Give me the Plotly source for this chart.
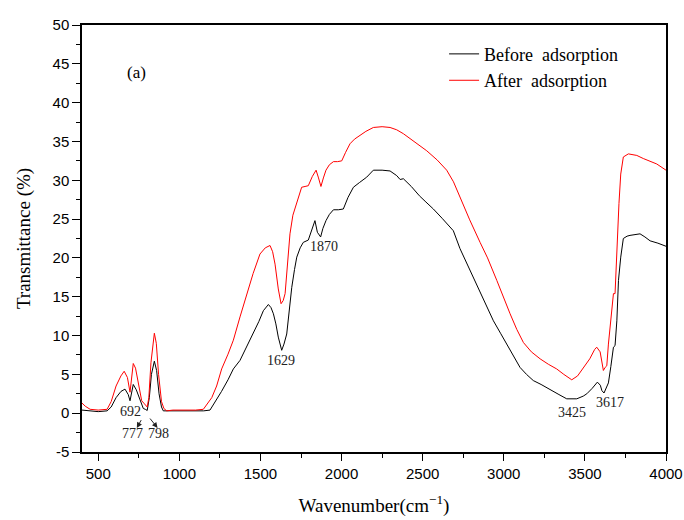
import plotly.graph_objects as go

# Wavenumber (cm-1) and transmittance (%)
before_x = [400, 450, 500, 555, 580, 610, 640, 665, 685, 696, 705, 716, 735, 755, 778, 790, 802, 815, 828, 846,
            860, 875, 890, 901, 950, 1000, 1050, 1100, 1150, 1189, 1220, 1260, 1300, 1333, 1374, 1415, 1456, 1490,
            1518, 1549, 1565, 1580, 1595, 1610, 1631, 1645, 1662, 1677, 1693, 1710, 1724, 1745, 1764, 1795, 1815,
            1836, 1851, 1871, 1885, 1904, 1925, 1950, 1980, 2011, 2040, 2073, 2110, 2155, 2196, 2250, 2299, 2340,
            2361, 2381, 2430, 2480, 2520, 2566, 2620, 2689, 2730, 2790, 2854, 2900, 2936, 2980, 3018, 3060, 3100,
            3140, 3182, 3230, 3285, 3340, 3388, 3450, 3490, 3512, 3545, 3577, 3595, 3605, 3618, 3632, 3645, 3660,
            3676, 3686, 3697, 3707, 3721, 3737, 3760, 3778, 3810, 3840, 3870, 3902, 3950, 4000]
before_y = [0.4, 0.3, 0.2, 0.3, 0.8, 2.0, 2.8, 3.1, 2.4, 1.6, 2.8, 3.7, 3.0, 1.8, 0.6, 0.5, 0.35, 2.0, 5.0, 6.7,
            5.5, 2.5, 0.8, 0.3, 0.3, 0.25, 0.3, 0.3, 0.3, 0.4, 1.4, 2.8, 4.3, 5.7, 6.8, 8.5, 10.2, 11.8,
            13.2, 14.0, 13.6, 12.8, 11.5, 9.8, 8.1, 8.9, 10.2, 13.0, 16.2, 18.5, 20.1, 21.3, 22.0, 22.3, 23.5,
            24.8, 23.3, 22.7, 23.8, 24.8, 25.6, 26.2, 26.2, 26.3, 27.8, 29.1, 29.7, 30.4, 31.3, 31.3, 31.2, 30.6,
            30.1, 30.2, 29.2, 28.0, 27.2, 26.3, 25.1, 23.5, 21.2, 18.5, 15.4, 13.4, 11.9, 10.3, 8.9, 7.3, 5.9,
            5.0, 4.2, 3.7, 3.1, 2.4, 1.85, 1.85, 2.2, 2.5, 3.2, 4.0, 3.6, 2.9, 2.6, 3.2, 3.9, 6.0,
            8.5, 8.7, 11.9, 17.1, 20.1, 22.5, 22.8, 22.9, 23.0, 23.1, 22.7, 22.2, 21.9, 21.5]

after_x = [400, 420, 450, 500, 555, 580, 610, 640, 660, 680, 696, 706, 716, 730, 748, 768, 785, 802, 812, 825,
           846, 858, 872, 890, 905, 922, 960, 1000, 1050, 1100, 1148, 1175, 1200, 1230, 1261, 1300, 1333, 1374,
           1415, 1455, 1497, 1530, 1559, 1575, 1590, 1610, 1627, 1640, 1652, 1668, 1682, 1700, 1724, 1740, 1754,
           1775, 1795, 1820, 1843, 1858, 1873, 1888, 1904, 1925, 1950, 1975, 2001, 2025, 2052, 2080, 2114, 2150,
           2196, 2250, 2299, 2340, 2381, 2450, 2525, 2590, 2648, 2690, 2730, 2790, 2854, 2900, 2957, 3000, 3039,
           3080, 3121, 3170, 3224, 3275, 3326, 3370, 3419, 3455, 3491, 3530, 3560, 3573, 3594, 3605, 3614, 3625,
           3635, 3645, 3660, 3676, 3686, 3697, 3710, 3721, 3737, 3768, 3800, 3820, 3860, 3900, 3943, 4000]
after_y = [1.3, 0.9, 0.5, 0.4, 0.5, 1.5, 3.5, 4.8, 5.4, 4.6, 2.7, 5.0, 6.4, 5.8, 3.8, 1.6, 1.2, 0.8, 2.0, 6.5,
           10.3, 9.0, 5.0, 1.5, 0.6, 0.3, 0.4, 0.4, 0.35, 0.4, 0.5, 1.2, 2.0, 3.5, 5.7, 7.6, 9.4, 12.4,
           15.4, 18.0, 20.5, 21.3, 21.6, 20.8, 19.2, 16.0, 14.1, 14.5, 15.4, 19.5, 23.1, 25.5, 27.0, 28.3, 29.1,
           29.2, 29.3, 30.5, 31.3, 30.3, 29.2, 30.3, 31.3, 32.0, 32.4, 32.4, 32.5, 33.6, 34.7, 35.3, 35.8, 36.3,
           36.8, 36.9, 36.8, 36.5, 36.0, 35.0, 33.8, 32.6, 31.3, 29.8, 27.8, 24.9, 22.0, 20.0, 17.1, 14.8, 12.8,
           10.8, 9.1, 7.9, 7.0, 6.3, 5.7, 5.0, 4.3, 4.8, 5.9, 7.0, 8.2, 8.5, 7.9, 6.5, 5.5, 5.9,
           6.1, 8.9, 12.0, 15.4, 15.4, 21.8, 27.0, 30.8, 33.0, 33.4, 33.3, 33.2, 32.8, 32.5, 32.1, 31.3]

series_names = ["Before\u00a0\u00a0adsorption", "After\u00a0\u00a0adsorption"]

peak_labels = ["692", "777", "798", "1629", "1870", "3425", "3617"]
peak_label_x = [696, 712, 873, 1627, 1892, 3419, 3655]
peak_label_y = [0.2, -2.6, -2.6, 6.8, 21.5, 0.1, 1.4]

x_ticks = [500, 1000, 1500, 2000, 2500, 3000, 3500, 4000]
x_tick_text = ["500", "1000", "1500", "2000", "2500", "3000", "3500", "4000"]
y_ticks = [-5, 0, 5, 10, 15, 20, 25, 30, 35, 40, 45, 50]
y_tick_text = ["-5", "0", "5", "10", "15", "20", "25", "30", "35", "40", "45", "50"]

SERIF = "Liberation Serif"
SANS = "Liberation Sans"

fig = go.Figure()
fig.add_trace(go.Scatter(x=before_x, y=before_y, mode="lines", name=series_names[0],
                         line=dict(color="black", width=1)))
fig.add_trace(go.Scatter(x=after_x, y=after_y, mode="lines", name=series_names[1],
                         line=dict(color="#ff0000", width=1)))

for t, px, py in zip(peak_labels, peak_label_x, peak_label_y):
    fig.add_annotation(x=px, y=py, text=t, showarrow=False,
                       font=dict(family=SERIF, size=14, color="#222"))

# arrows from the curve dips toward the 777 / 798 labels
for (hx, hy, tx, ty) in [(738, -1.9, 770, -0.7), (866, -1.9, 812, -0.5)]:
    fig.add_annotation(x=hx, y=hy, ax=tx, ay=ty, xref="x", yref="y", axref="x", ayref="y",
                       text="", showarrow=True, arrowhead=2, arrowsize=1.1, arrowwidth=1,
                       arrowcolor="#222", standoff=0, startstandoff=0)

fig.add_annotation(x=739, y=43.9, text="(a)", showarrow=False,
                   font=dict(family=SERIF, size=17, color="black"))

fig.update_layout(
    width=684, height=520,
    font=dict(family=SERIF, color="black"),
    margin=dict(l=82, r=18, t=25, b=68, autoexpand=False),
    paper_bgcolor="white", plot_bgcolor="white",
    showlegend=True,
    legend=dict(x=0.62, y=0.975, xanchor="left", yanchor="top",
                bgcolor="rgba(0,0,0,0)", borderwidth=0,
                font=dict(family=SERIF, size=18, color="black")),
    xaxis=dict(range=[400, 4000], tickvals=x_ticks, ticktext=x_tick_text, ticks="outside", ticklen=7,
               tickwidth=1.2, automargin=False,
               tickcolor="black", showline=True, linecolor="black", linewidth=1.5, mirror=True,
               showgrid=False, zeroline=False,
               minor=dict(dtick=250, tick0=500, ticks="outside", ticklen=4, tickcolor="black", showgrid=False),
               tickfont=dict(family=SANS, size=15, color="black"),
               title=dict(text="Wavenumber(cm<sup>\u22121</sup>)", standoff=18,
                          font=dict(family=SERIF, size=19, color="black"))),
    yaxis=dict(range=[-5, 50], tickvals=y_ticks, ticktext=y_tick_text, ticks="outside", ticklen=8,
               tickwidth=1.2, automargin=False,
               tickcolor="black", showline=True, linecolor="black", linewidth=1.5, mirror=True,
               showgrid=False, zeroline=False,
               minor=dict(dtick=2.5, tick0=0, ticks="outside", ticklen=4, tickcolor="black", showgrid=False),
               tickfont=dict(family=SANS, size=15, color="black"),
               title=dict(text="Transmittance (%)", standoff=17,
                          font=dict(family=SERIF, size=19, color="black"))),
)

fig.write_html("out.html", config={"displayModeBar": False},
               post_script="document.body.style.margin='0';document.body.style.overflow='hidden';")
